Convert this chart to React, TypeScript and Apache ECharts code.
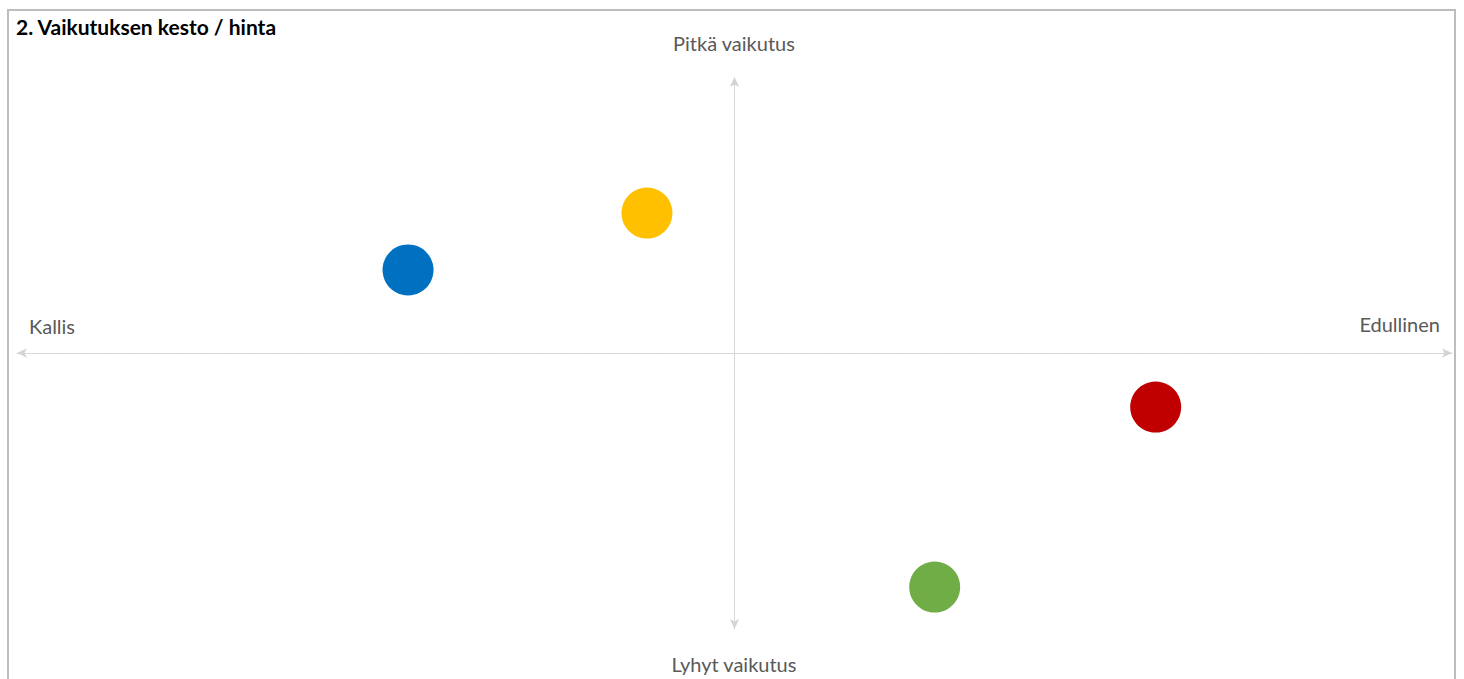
import React, { useEffect, useRef } from "react";
import * as echarts from "echarts";

const title = "2. Vaikutuksen kesto / hinta";
const axisLabelTop = "Pitkä vaikutus";
const axisLabelBottom = "Lyhyt vaikutus";
const axisLabelLeft = "Kallis";
const axisLabelRight = "Edullinen";

const pointNames = ["Sininen", "Keltainen", "Punainen", "Vihreä"];
const xValues = [-0.455, -0.122, 0.587, 0.279];
const yValues = [0.301, 0.507, -0.196, -0.848];
const pointColors = ["#0070C0", "#FFC000", "#C00000", "#70AD47"];

export default function App() {
  const ref = useRef<HTMLDivElement>(null);
  useEffect(() => {
    if (!ref.current) return;
    const chart = echarts.init(ref.current, null, { renderer: "svg" });
    const font = "Lato, 'Open Sans', sans-serif";
    const axisLine = {
      onZero: true,
      symbol: ["arrow", "arrow"],
      symbolSize: [7, 10],
      lineStyle: { color: "#d4d4d4", type: [2, 1], width: 1 },
    };
    chart.setOption({
      animation: false,
      backgroundColor: "#ffffff",
      grid: { left: 17, right: 12, top: 77, bottom: 50, containLabel: false },
      xAxis: {
        type: "value",
        min: -1,
        max: 1,
        axisLine: axisLine,
        axisTick: { show: false },
        axisLabel: { show: false },
        splitLine: { show: false },
      },
      yAxis: {
        type: "value",
        min: -1,
        max: 1,
        axisLine: axisLine,
        axisTick: { show: false },
        axisLabel: { show: false },
        splitLine: { show: false },
      },
      series: [
        {
          type: "scatter",
          symbolSize: 51,
          data: xValues.map((x, i) => ({
            name: pointNames[i],
            value: [x, yValues[i]],
            itemStyle: { color: pointColors[i], opacity: 1 },
          })),
        },
      ],
      graphic: [
        {
          type: "rect",
          shape: { x: 8, y: 10, width: 1447, height: 700 },
          style: { fill: "none", stroke: "#bdbdbd", lineWidth: 2 },
          silent: true,
        },
        {
          type: "text",
          x: 16,
          y: 26,
          style: { text: title, font: "bold 21px " + font, fill: "#000000", align: "left", verticalAlign: "middle" },
        },
        {
          type: "text",
          x: 734,
          y: 43,
          style: { text: axisLabelTop, font: "20px " + font, fill: "#595959", align: "center", verticalAlign: "middle" },
        },
        {
          type: "text",
          x: 734,
          y: 664,
          style: { text: axisLabelBottom, font: "20px " + font, fill: "#595959", align: "center", verticalAlign: "middle" },
        },
        {
          type: "text",
          x: 29,
          y: 326,
          style: { text: axisLabelLeft, font: "20px " + font, fill: "#595959", align: "left", verticalAlign: "middle" },
        },
        {
          type: "text",
          x: 1440,
          y: 324,
          style: { text: axisLabelRight, font: "20px " + font, fill: "#595959", align: "right", verticalAlign: "middle" },
        },
      ],
    });
    return () => chart.dispose();
  }, []);
  return (
    <div
      ref={ref}
      style={{ position: "absolute", left: 0, top: 0, width: 1464, height: 679 }}
    />
  );
}
